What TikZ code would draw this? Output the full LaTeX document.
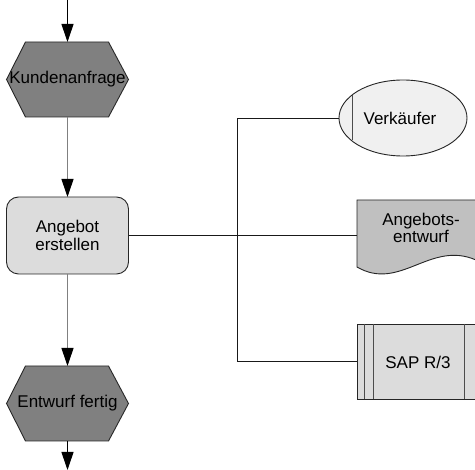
\documentclass[tikz,border=0pt]{standalone}
\usepackage{fontspec}
\setmainfont{Liberation Sans}
\usetikzlibrary{shapes.geometric,arrows.meta,backgrounds,calc}
\definecolor{hexgray}{HTML}{808080}
\definecolor{boxgray}{HTML}{DCDCDC}
\definecolor{ellgray}{HTML}{F0F0F0}
\definecolor{docgray}{HTML}{C0C0C0}
\definecolor{flowgray}{HTML}{808080}
\begin{document}
\begin{tikzpicture}[x=1pt,y=-1pt,
  font=\fontsize{17}{18}\selectfont,
  every node/.style={outer sep=0pt, inner sep=0pt},
  evt/.style={minimum width=122pt, minimum height=75pt, align=center},
  hexshape/.style={fill=hexgray, draw=black!85, line width=0.9pt, line join=miter},
  fn/.style={draw=black!85, fill=boxgray, line width=0.9pt, rounded corners=12pt,
    minimum width=122pt, minimum height=77pt, align=center},
  org/.style={ellipse, draw=black!85, fill=ellgray, line width=0.9pt,
    minimum width=128pt, minimum height=76pt},
  docbox/.style={minimum width=119pt, minimum height=60pt},
  docshape/.style={fill=docgray, draw=black!85, line width=0.9pt},
  sys/.style={draw=black!85, fill=boxgray, line width=0.9pt,
    minimum width=118pt, minimum height=75pt},
  flow/.style={draw=flowgray, line width=1pt, -{Triangle[length=18pt,width=12pt,black]}},
  flowblack/.style={draw=black, line width=1pt, -{Triangle[length=18pt,width=12pt,black]}},
  conn/.style={draw=black!90, line width=0.9pt}
]
\useasboundingbox (0,0) rectangle (475,470);

% nodes
\node[evt] (k) at (67.5,79.5) {Kundenanfrage};
\node[fn] (a) at (67.5,235.5) {Angebot\\erstellen};
\node[evt] (e) at (67.5,403.5) {Entwurf fertig};
\node[org] (v) at (403,118) {};
\node (vt) at (400,118) {Verkäufer};
\node[docbox] (d) at (416.5,230) {};
\node[align=center] (dt) at (421,228) {Angebots-\\[-1pt]entwurf};
\node[sys] (s) at (416,361.5) {};
\node (st) at (418,362) {SAP R/3};

\coordinate (top) at (67.5,0);
\coordinate (bot) at (67.5,470);
\coordinate (j) at (237,236);

% background shapes
\begin{pgfonlayer}{background}
  \path[hexshape] (k.west) -- ([xshift=19pt]k.north west) -- ([xshift=-20pt]k.north east)
    -- (k.east) -- ([xshift=-20pt]k.south east) -- ([xshift=19pt]k.south west) -- cycle;
  \path[hexshape] (e.west) -- ([xshift=19pt]e.north west) -- ([xshift=-20pt]e.north east)
    -- (e.east) -- ([xshift=-20pt]e.south east) -- ([xshift=19pt]e.south west) -- cycle;
  \path[docshape] (d.north west) -- (d.north east) -- (d.south east)
    .. controls (430,240) and (400,292) .. (357,267) -- cycle;
\end{pgfonlayer}

% inner lines
\draw[conn, draw=black!70] ($(v.center)+(-51,-23)$) -- ($(v.center)+(-51,22)$);
\draw[conn, draw=black!70] ([xshift=7pt]s.north west) -- ([xshift=7pt]s.south west);
\draw[conn, draw=black!70] ([xshift=16pt]s.north west) -- ([xshift=16pt]s.south west);
\draw[conn, draw=black!70] ([xshift=-11pt]s.north east) -- ([xshift=-11pt]s.south east);

% flow
\draw[flowblack] (top) -- (k.north);
\draw[flow] (k.south) -- (a.north);
\draw[flow] (a.south) -- (e.north);
\draw[flowblack] (e.south) -- (bot);

% connections
\draw[conn] (a.east) -- (a.east -| d.west);
\draw[conn] (v.west) -- (v.west -| j) -- (s.west -| j) -- (s.west);
\end{tikzpicture}
\end{document}
